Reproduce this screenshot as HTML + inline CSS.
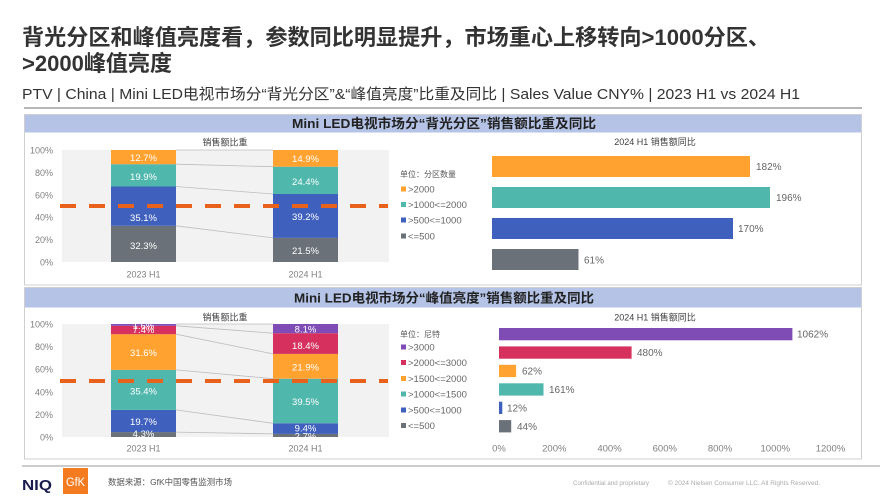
<!DOCTYPE html>
<html><head><meta charset="utf-8"><style>
html,body{margin:0;padding:0;background:#fff;}
svg{display:block;font-family:"Liberation Sans","Noto Sans CJK SC",sans-serif;}
</style></head><body>
<svg width="889" height="500" viewBox="0 0 889 500" xmlns="http://www.w3.org/2000/svg">
<rect width="889" height="500" fill="#fff"/>
<!-- Title -->
<text x="22" y="45" font-size="22" font-weight="bold" fill="#333" textLength="748" lengthAdjust="spacingAndGlyphs">背光分区和峰值亮度看，参数同比明显提升，市场重心上移转向&gt;1000分区、</text>
<text x="22" y="71" font-size="22" font-weight="bold" fill="#333" textLength="150" lengthAdjust="spacingAndGlyphs">&gt;2000峰值亮度</text>
<text x="22" y="99" font-size="15" fill="#333" textLength="778" lengthAdjust="spacingAndGlyphs">PTV | China | Mini LED电视市场分“背光分区”&amp;“峰值亮度”比重及同比 | Sales Value CNY% | 2023 H1 vs 2024 H1</text>
<line x1="24" y1="108" x2="862" y2="108" stroke="#8c8c8c" stroke-width="1.3"/>

<!-- ========== TOP PANEL ========== -->
<rect x="24.5" y="114.5" width="837" height="170.5" fill="#fff" stroke="#cfcfcf" stroke-width="1"/>
<rect x="25" y="115" width="836" height="17.5" fill="#b4c3e6"/>
<text x="444" y="128" font-size="13" font-weight="bold" fill="#222" text-anchor="middle" textLength="304" lengthAdjust="spacingAndGlyphs">Mini LED电视市场分“背光分区”销售额比重及同比</text>

<text x="225" y="145.5" font-size="9" fill="#404040" text-anchor="middle">销售额比重</text>
<rect x="62" y="150" width="327" height="112" fill="#f2f2f2"/>
<g font-size="9" fill="#808080" text-anchor="end">
<text x="53" y="153.5">100%</text><text x="53" y="175.9">80%</text><text x="53" y="198.3">60%</text>
<text x="53" y="220.7">40%</text><text x="53" y="243.1">20%</text><text x="53" y="265.5">0%</text>
</g>
<g stroke="#bdbdbd" stroke-width="0.8">
<line x1="176" y1="225.8" x2="273" y2="237.9"/>
<line x1="176" y1="186.5" x2="273" y2="194.0"/>
<line x1="176" y1="164.2" x2="273" y2="166.7"/>
<line x1="176" y1="150" x2="273" y2="150"/>
</g>
<!-- 2023 -->
<rect x="111" y="225.8" width="65" height="36.2" fill="#6a7178"/>
<rect x="111" y="186.5" width="65" height="39.3" fill="#3f60bd"/>
<rect x="111" y="164.2" width="65" height="22.3" fill="#4fb7ac"/>
<rect x="111" y="150" width="65" height="14.2" fill="#ffa230"/>
<!-- 2024 -->
<rect x="273" y="237.9" width="65" height="24.1" fill="#6a7178"/>
<rect x="273" y="194.0" width="65" height="43.9" fill="#3f60bd"/>
<rect x="273" y="166.7" width="65" height="27.3" fill="#4fb7ac"/>
<rect x="273" y="150" width="65" height="16.7" fill="#ffa230"/>
<line x1="60" y1="206" x2="388" y2="206" stroke="#e8621c" stroke-width="4" stroke-dasharray="16 13"/>
<g font-size="9.5" fill="#fff" text-anchor="middle">
<text x="143.5" y="161">12.7%</text><text x="143.5" y="180">19.9%</text>
<text x="143.5" y="221">35.1%</text><text x="143.5" y="249">32.3%</text>
<text x="305.5" y="162">14.9%</text><text x="305.5" y="185">24.4%</text>
<text x="305.5" y="220">39.2%</text><text x="305.5" y="254">21.5%</text>
</g>
<g font-size="9" fill="#808080" text-anchor="middle">
<text x="143.5" y="277.5">2023 H1</text><text x="305.5" y="277.5">2024 H1</text>
</g>
<!-- legend top -->
<text x="400" y="177" font-size="8" fill="#595959">单位：分区数量</text>
<rect x="401" y="186.5" width="5" height="5" fill="#ffa230"/>
<rect x="401" y="202" width="5" height="5" fill="#4fb7ac"/>
<rect x="401" y="217.5" width="5" height="5" fill="#3f60bd"/>
<rect x="401" y="233.5" width="5" height="5" fill="#6a7178"/>
<g font-size="9.5" fill="#666">
<text x="408" y="192.5">&gt;2000</text>
<text x="408" y="208">&gt;1000&lt;=2000</text>
<text x="408" y="223.5">&gt;500&lt;=1000</text>
<text x="408" y="239.5">&lt;=500</text>
</g>
<!-- top right bars -->
<text x="655" y="145" font-size="9" fill="#404040" text-anchor="middle">2024 H1 销售额同比</text>
<rect x="492" y="156" width="258" height="21" fill="#ffa230"/>
<rect x="492" y="187" width="278" height="21" fill="#4fb7ac"/>
<rect x="492" y="218" width="241" height="21" fill="#3f60bd"/>
<rect x="492" y="249" width="86.5" height="21" fill="#6a7178"/>
<g font-size="10" fill="#666">
<text x="756" y="170">182%</text>
<text x="776" y="201">196%</text>
<text x="738" y="232">170%</text>
<text x="584" y="263.5">61%</text>
</g>

<!-- ========== BOTTOM PANEL ========== -->
<rect x="24.5" y="287.5" width="837" height="171.5" fill="#fff" stroke="#cfcfcf" stroke-width="1"/>
<rect x="25" y="288" width="836" height="19.5" fill="#b4c3e6"/>
<text x="444" y="302.5" font-size="13" font-weight="bold" fill="#222" text-anchor="middle" textLength="300" lengthAdjust="spacingAndGlyphs">Mini LED电视市场分“峰值亮度”销售额比重及同比</text>

<text x="225" y="320.5" font-size="9" fill="#404040" text-anchor="middle">销售额比重</text>
<rect x="62" y="324" width="327" height="113" fill="#f2f2f2"/>
<g font-size="9" fill="#808080" text-anchor="end">
<text x="53" y="327.5">100%</text><text x="53" y="350.1">80%</text><text x="53" y="372.7">60%</text>
<text x="53" y="395.3">40%</text><text x="53" y="417.9">20%</text><text x="53" y="440.5">0%</text>
</g>
<g stroke="#bdbdbd" stroke-width="0.8">
<line x1="176" y1="432.1" x2="273" y2="433.9"/>
<line x1="176" y1="409.9" x2="273" y2="423.3"/>
<line x1="176" y1="369.9" x2="273" y2="378.7"/>
<line x1="176" y1="334.2" x2="273" y2="353.9"/>
<line x1="176" y1="325.8" x2="273" y2="333.2"/>
<line x1="176" y1="324" x2="273" y2="324"/>
</g>
<!-- 2023 -->
<rect x="111" y="432.1" width="65" height="4.9" fill="#6a7178"/>
<rect x="111" y="409.9" width="65" height="22.2" fill="#3f60bd"/>
<rect x="111" y="369.9" width="65" height="40" fill="#4fb7ac"/>
<rect x="111" y="334.2" width="65" height="35.7" fill="#ffa230"/>
<rect x="111" y="325.8" width="65" height="8.4" fill="#d6315e"/>
<rect x="111" y="324" width="65" height="1.8" fill="#7e4cb4"/>
<!-- 2024 -->
<rect x="273" y="433.9" width="65" height="3.1" fill="#6a7178"/>
<rect x="273" y="423.3" width="65" height="10.6" fill="#3f60bd"/>
<rect x="273" y="378.7" width="65" height="44.6" fill="#4fb7ac"/>
<rect x="273" y="353.9" width="65" height="24.8" fill="#ffa230"/>
<rect x="273" y="333.2" width="65" height="20.7" fill="#d6315e"/>
<rect x="273" y="324" width="65" height="9.2" fill="#7e4cb4"/>
<line x1="60" y1="381" x2="388" y2="381" stroke="#e8621c" stroke-width="4" stroke-dasharray="16 13"/>
<g font-size="9.5" fill="#fff" text-anchor="middle">
<text x="143.5" y="329">1.6%</text><text x="143.5" y="333">7.4%</text>
<text x="143.5" y="356">31.6%</text><text x="143.5" y="394.5">35.4%</text>
<text x="143.5" y="425">19.7%</text><text x="143.5" y="437">4.3%</text>
<text x="305.5" y="332.5">8.1%</text><text x="305.5" y="349">18.4%</text>
<text x="305.5" y="370.5">21.9%</text><text x="305.5" y="405">39.5%</text>
<text x="305.5" y="431.5">9.4%</text><text x="305.5" y="439.5">2.7%</text>
</g>
<g font-size="9" fill="#808080" text-anchor="middle">
<text x="143.5" y="451.5">2023 H1</text><text x="305.5" y="451.5">2024 H1</text>
</g>
<!-- legend bottom -->
<text x="400" y="337" font-size="8" fill="#595959">单位：尼特</text>
<rect x="401" y="344.5" width="5" height="5" fill="#7e4cb4"/>
<rect x="401" y="360" width="5" height="5" fill="#d6315e"/>
<rect x="401" y="376" width="5" height="5" fill="#ffa230"/>
<rect x="401" y="391.5" width="5" height="5" fill="#4fb7ac"/>
<rect x="401" y="407.5" width="5" height="5" fill="#3f60bd"/>
<rect x="401" y="423" width="5" height="5" fill="#6a7178"/>
<g font-size="9.5" fill="#666">
<text x="408" y="350.5">&gt;3000</text>
<text x="408" y="366">&gt;2000&lt;=3000</text>
<text x="408" y="381.8">&gt;1500&lt;=2000</text>
<text x="408" y="397.5">&gt;1000&lt;=1500</text>
<text x="408" y="413.5">&gt;500&lt;=1000</text>
<text x="408" y="429">&lt;=500</text>
</g>
<!-- bottom right bars -->
<text x="655" y="320.5" font-size="9" fill="#404040" text-anchor="middle">2024 H1 销售额同比</text>
<rect x="499" y="328" width="293.4" height="12.3" fill="#7e4cb4"/>
<rect x="499" y="346.4" width="132.6" height="12.3" fill="#d6315e"/>
<rect x="499" y="364.8" width="17.1" height="12.3" fill="#ffa230"/>
<rect x="499" y="383.3" width="44.5" height="12.3" fill="#4fb7ac"/>
<rect x="499" y="401.7" width="3.3" height="12.3" fill="#3f60bd"/>
<rect x="499" y="420.1" width="12.2" height="12.3" fill="#6a7178"/>
<g font-size="10" fill="#666">
<text x="797" y="337.5">1062%</text>
<text x="637" y="356">480%</text>
<text x="522" y="374.5">62%</text>
<text x="549" y="393">161%</text>
<text x="507" y="411.5">12%</text>
<text x="517" y="430">44%</text>
</g>
<g font-size="9.5" fill="#808080" text-anchor="middle">
<text x="499" y="451.5">0%</text>
<text x="554.3" y="451.5">200%</text>
<text x="609.5" y="451.5">400%</text>
<text x="664.8" y="451.5">600%</text>
<text x="720" y="451.5">800%</text>
<text x="775.3" y="451.5">1000%</text>
<text x="830.5" y="451.5">1200%</text>
</g>

<!-- ========== FOOTER ========== -->
<line x1="22" y1="466" x2="880" y2="466" stroke="#9a9a9a" stroke-width="1"/>
<text x="22" y="490" font-size="15" font-weight="bold" fill="#1b1d4f" textLength="30" lengthAdjust="spacingAndGlyphs">NIQ</text>
<rect x="63" y="468" width="25" height="26" fill="#f47b20"/>
<text x="75.5" y="486" font-size="11.5" fill="#fff" text-anchor="middle" textLength="19" lengthAdjust="spacingAndGlyphs">GfK</text>
<text x="108" y="485" font-size="8.5" fill="#555" textLength="124" lengthAdjust="spacingAndGlyphs">数据来源：GfK中国零售监测市场</text>
<text x="573" y="485" font-size="6.5" fill="#aaa" textLength="76" lengthAdjust="spacingAndGlyphs">Confidential and proprietary</text>
<text x="668" y="485" font-size="6.5" fill="#aaa" textLength="152" lengthAdjust="spacingAndGlyphs">© 2024 Nielsen Consumer LLC. All Rights Reserved.</text>
</svg>
</body></html>
